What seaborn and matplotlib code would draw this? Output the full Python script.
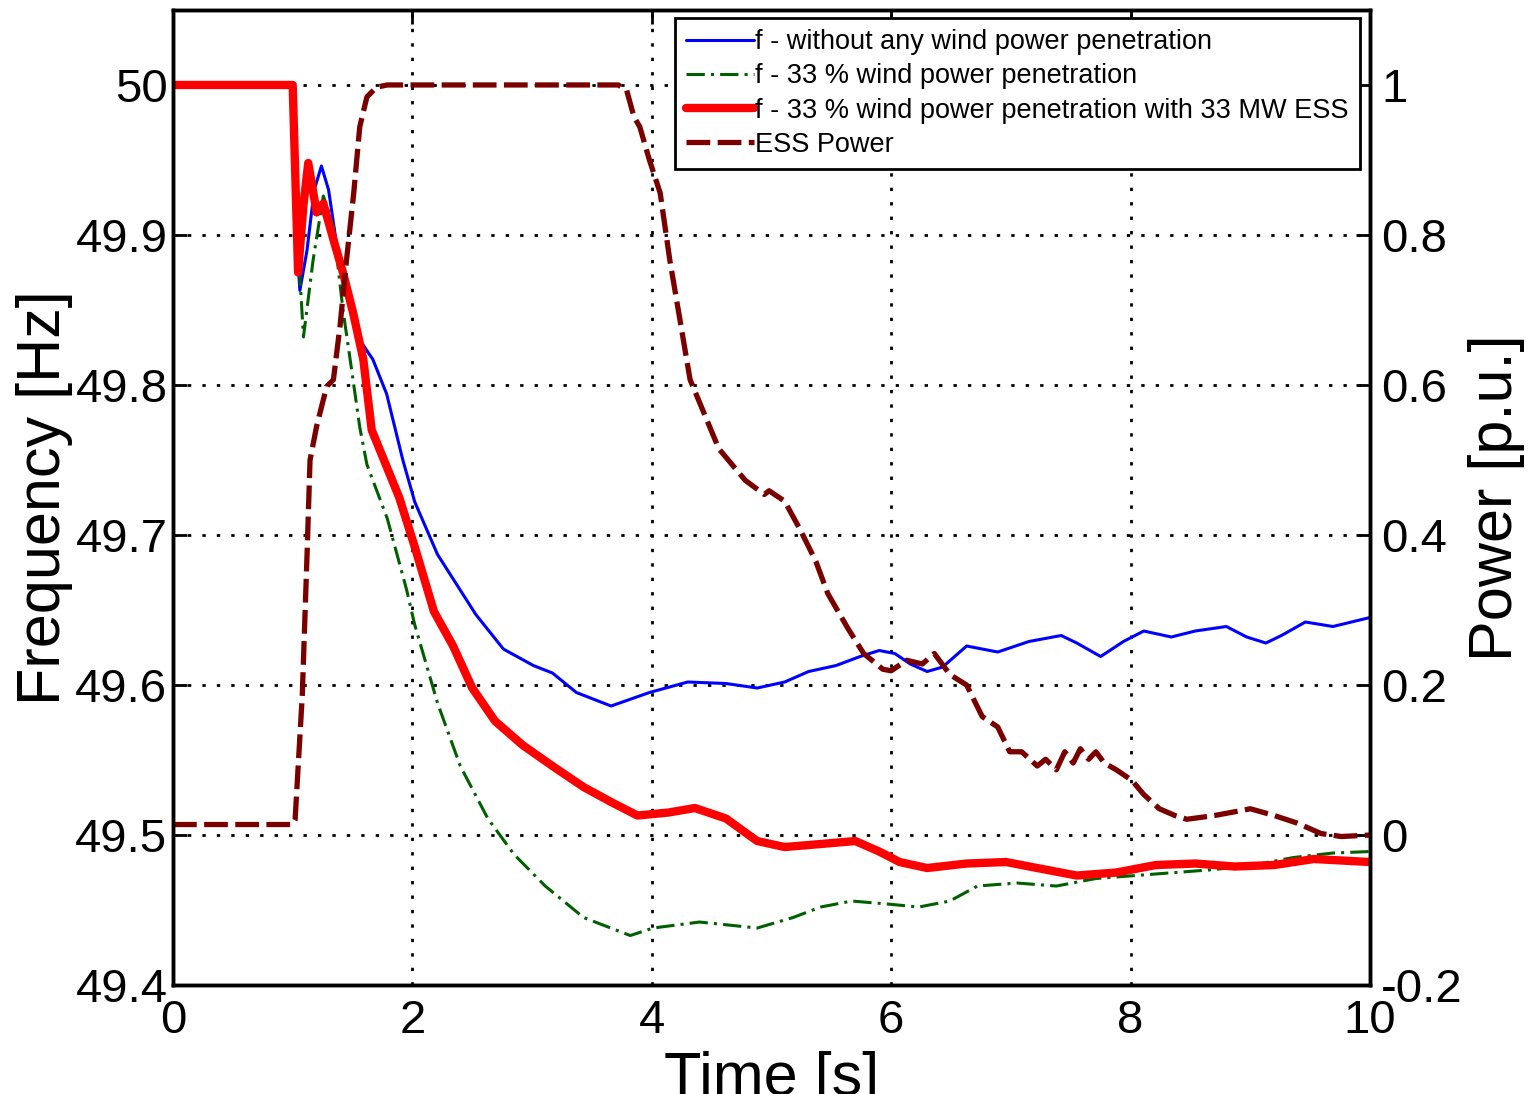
import numpy as np
import pandas as pd
import matplotlib
matplotlib.use("Agg")
import matplotlib.pyplot as plt
from matplotlib import font_manager
import seaborn as sns

# ---------------- data ----------------
t_blue = [0.0, 1.0, 1.03, 1.06, 1.12, 1.18, 1.24, 1.30, 1.37, 1.45, 1.56, 1.67, 1.785, 1.92,
          2.02, 2.21, 2.53, 2.76, 3.01, 3.17, 3.37, 3.66, 3.98, 4.30, 4.62, 4.88,
          5.11, 5.31, 5.54, 5.74, 5.90, 6.03, 6.16, 6.30, 6.43, 6.63, 6.89, 7.15, 7.42,
          7.55, 7.75, 7.94, 8.11, 8.34, 8.54, 8.80, 8.97, 9.13, 9.26, 9.46, 9.69, 10.0]
f_blue = [50.0, 50.0, 49.90, 49.863, 49.89, 49.93, 49.946, 49.93, 49.892, 49.861, 49.83, 49.817, 49.794, 49.75,
          49.722, 49.687, 49.647, 49.624, 49.613, 49.608, 49.595, 49.586, 49.595, 49.602, 49.601, 49.598,
          49.602, 49.609, 49.613, 49.619, 49.623, 49.621, 49.614, 49.609, 49.612, 49.626, 49.622, 49.629, 49.633,
          49.628, 49.619, 49.629, 49.636, 49.632, 49.636, 49.639, 49.632, 49.628, 49.633, 49.642, 49.639, 49.645]

t_green = [0.0, 1.0, 1.04, 1.09, 1.17, 1.256, 1.34, 1.42, 1.48, 1.56, 1.62, 1.79, 1.95, 2.02,
           2.21, 2.40, 2.63, 2.85, 3.11, 3.43, 3.82, 4.01, 4.40, 4.88, 5.18, 5.41, 5.67,
           5.97, 6.23, 6.49, 6.72, 7.05, 7.38, 7.71, 8.04, 8.37, 8.70, 9.03, 9.36, 9.69, 10.0]
f_green = [50.0, 50.0, 49.90, 49.832, 49.883, 49.926, 49.906, 49.85, 49.817, 49.772, 49.747, 49.711, 49.664, 49.64,
           49.588, 49.546, 49.511, 49.487, 49.466, 49.445, 49.433, 49.438, 49.442, 49.438, 49.445, 49.452, 49.456,
           49.454, 49.452, 49.456, 49.466, 49.468, 49.466, 49.471, 49.473, 49.475, 49.477, 49.480, 49.485, 49.488, 49.489]

t_red = [0.0, 1.0, 1.045, 1.09, 1.13, 1.20, 1.256, 1.34, 1.42, 1.505, 1.59, 1.66, 1.89, 2.02,
         2.18, 2.34, 2.50, 2.69, 2.92, 3.17, 3.43, 3.66, 3.88, 4.14, 4.36, 4.62, 4.88,
         5.11, 5.41, 5.70, 5.90, 6.07, 6.30, 6.63, 6.96, 7.22, 7.55, 7.88, 8.21, 8.54,
         8.87, 9.20, 9.53, 10.0]
f_red = [50.0, 50.0, 49.875, 49.92, 49.948, 49.915, 49.921, 49.897, 49.875, 49.848, 49.817, 49.77, 49.725, 49.692,
         49.649, 49.626, 49.598, 49.576, 49.56, 49.546, 49.532, 49.522, 49.513, 49.515, 49.518, 49.511, 49.496,
         49.492, 49.494, 49.496, 49.489, 49.482, 49.478, 49.481, 49.482, 49.478, 49.473, 49.475, 49.480, 49.481,
         49.479, 49.480, 49.484, 49.482]

t_ess = [0.0, 1.0, 1.02, 1.08, 1.12, 1.145, 1.20, 1.284, 1.34, 1.395, 1.45, 1.51, 1.56, 1.62, 1.70, 1.79,
         3.72, 3.79, 3.85, 3.90, 3.98, 4.07, 4.15, 4.32, 4.56, 4.78, 4.94, 4.98, 5.11, 5.24, 5.37,
         5.47, 5.64, 5.77, 5.93, 6.0, 6.13, 6.26, 6.36, 6.49, 6.63, 6.76, 6.89, 6.99, 7.09, 7.22,
         7.29, 7.38, 7.45, 7.52, 7.58, 7.65, 7.71, 7.78, 7.88, 8.01, 8.11, 8.24, 8.37, 8.47, 8.70,
         8.87, 9.0, 9.2, 9.39, 9.59, 9.76, 10.0]
p_ess = [0.014, 0.014, 0.02, 0.186, 0.374, 0.50, 0.545, 0.598, 0.607, 0.678, 0.767, 0.856, 0.944, 0.984, 0.997, 1.0,
         1.0, 0.993, 0.958, 0.944, 0.90, 0.856, 0.767, 0.607, 0.515, 0.473, 0.454, 0.459, 0.445, 0.407, 0.365,
         0.322, 0.275, 0.242, 0.221, 0.219, 0.233, 0.228, 0.242, 0.214, 0.20, 0.158, 0.144, 0.111, 0.111, 0.092,
         0.101, 0.087, 0.111, 0.096, 0.115, 0.101, 0.111, 0.096, 0.087, 0.073, 0.054, 0.035, 0.026, 0.021, 0.026,
         0.031, 0.035, 0.026, 0.016, 0.002, -0.002, 0.0]

x_ticks = [0, 2, 4, 6, 8, 10]
f_ticks = [49.4, 49.5, 49.6, 49.7, 49.8, 49.9, 50.0]
f_ticklabels = ["49.4", "49.5", "49.6", "49.7", "49.8", "49.9", "50"]
p_ticks = [-0.2, 0.0, 0.2, 0.4, 0.6, 0.8, 1.0]
p_ticklabels = ["-0.2", "0", "0.2", "0.4", "0.6", "0.8", "1"]

labels = ["f - without any wind power penetration",
          "f - 33 % wind power penetration",
          "f - 33 % wind power penetration with 33 MW ESS",
          "ESS Power"]

# ---------------- style ----------------
sns.set_style("white")
avail = {f.name for f in font_manager.fontManager.ttflist}
narrow = "Liberation Sans Narrow" if "Liberation Sans Narrow" in avail else "Liberation Sans"
plt.rcParams["font.family"] = [narrow, "DejaVu Sans"]
plt.rcParams["text.color"] = "black"
plt.rcParams["axes.labelcolor"] = "black"
plt.rcParams["xtick.color"] = "black"
plt.rcParams["ytick.color"] = "black"

fig = plt.figure(figsize=(15.39, 10.94), dpi=100)
ax = fig.add_axes([0.1124, 0.0996, 0.7778, 0.8913])
ax2 = ax.twinx()

sns.lineplot(x=t_blue, y=f_blue, ax=ax, color="#0000ff", lw=2.2, label=labels[0], legend=False)
sns.lineplot(x=t_green, y=f_green, ax=ax, color="#006000", lw=2.2, label=labels[1], legend=False)
sns.lineplot(x=t_red, y=f_red, ax=ax, color="#ff0000", lw=6.0, label=labels[2], legend=False)
sns.lineplot(x=t_ess, y=p_ess, ax=ax2, color="#7a0000", lw=3.8, label=labels[3], legend=False)

ax.lines[1].set_dashes((6, 2, 1, 2))
ax2.lines[0].set_dashes((4.5, 1.4))

ax.set_xlim(0, 10)
ax.set_ylim(49.4, 50.05)
ax2.set_ylim(-0.2, 1.1)

ax.set_xticks(x_ticks)
ax.set_xticklabels([str(v) for v in x_ticks])
ax.set_yticks(f_ticks)
ax.set_yticklabels(f_ticklabels)
ax2.set_yticks(p_ticks)
ax2.set_yticklabels(p_ticklabels)

ax.grid(True, color="black", linestyle=(0, (1.2, 4.0)), linewidth=2.0)
ax.set_axisbelow(True)

for a in (ax, ax2):
    for s in a.spines.values():
        s.set_linewidth(2.5)
        s.set_color("black")
ax.tick_params(axis="x", direction="in", length=10, width=2, labelsize=34,
               top=True, pad=10, colors="black")
ax.tick_params(axis="y", direction="in", length=10, width=2, labelsize=34,
               pad=4, colors="black")
ax2.tick_params(axis="y", direction="in", length=10, width=2, labelsize=34, pad=8, colors="black")

ax.set_xlabel("Time [s]", fontsize=44, labelpad=6)
ax.set_ylabel("Frequency [Hz]", fontsize=44, labelpad=2)
ax2.set_ylabel("Power [p.u.]", fontsize=44, rotation=90, labelpad=4)

handles = ax.lines[:3] + ax2.lines[:1]
leg = ax2.legend(handles, labels, loc="upper right", bbox_to_anchor=(0.9916, 0.9918),
                 borderaxespad=0, fontsize=19.5, frameon=True, fancybox=False,
                 framealpha=1, edgecolor="black", handlelength=2.5, handletextpad=0.05,
                 labelspacing=0.3, borderpad=0.42)
leg.get_frame().set_linewidth(2)

fig.savefig("out.png", dpi=100)
